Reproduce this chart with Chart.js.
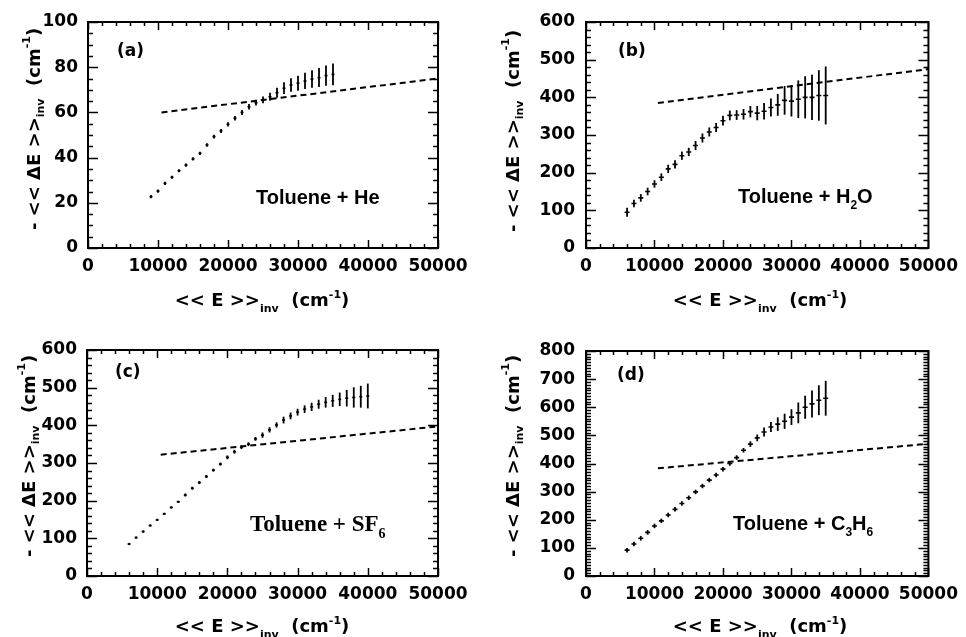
<!DOCTYPE html>
<html>
<head>
<meta charset="utf-8">
<script src="https://cdn.jsdelivr.net/npm/chart.js@4.4.1/dist/chart.umd.min.js"></script>
<style>
  html, body { margin: 0; padding: 0; background: #fff; }
  #wrap { position: relative; width: 966px; height: 637px; overflow: hidden; background: #fff; }
  canvas { position: absolute; display: block; }
</style>
</head>
<body>
<div id="wrap">
  <canvas id="pa" width="483" height="318" style="left:0;top:0"></canvas>
  <canvas id="pb" width="483" height="318" style="left:483px;top:0"></canvas>
  <canvas id="pc" width="483" height="319" style="left:0;top:318px"></canvas>
  <canvas id="pd" width="483" height="319" style="left:483px;top:318px"></canvas>
</div>
<script>
// ---- shared axis ticks ----
const energyTicks = [0, 10000, 20000, 30000, 40000, 50000];
const yTicksA = [0, 20, 40, 60, 80, 100];
const yTicksB = [0, 100, 200, 300, 400, 500, 600];
const yTicksC = [0, 100, 200, 300, 400, 500, 600];
const yTicksD = [0, 100, 200, 300, 400, 500, 600, 700, 800];

// ---- (a) Toluene + He ----
const energyA = [9000, 10000, 11000, 12000, 13000, 14000, 15000, 16000, 17000, 18000, 19000, 20000, 21000, 22000,
  23000, 24000, 25000, 26000, 27000, 28000, 29000, 30000, 31000, 32000, 33000, 34000, 35000];
const deltaA = [22.7, 25.2, 28.6, 31.3, 34.2, 36.7, 39.4, 41.9, 45.6, 49.3, 51.8, 54.7, 57.4, 60.0,
  62.5, 64.3, 65.5, 66.9, 68.7, 70.7, 72.1, 72.9, 73.9, 74.8, 75.4, 76.3, 76.8];
const errA = [0.7, 0.7, 0.7, 0.7, 0.7, 0.7, 0.7, 0.7, 0.8, 0.8, 0.9, 0.9, 1.0, 1.1,
  1.2, 1.3, 1.5, 1.8, 2.2, 2.6, 3.0, 3.3, 3.6, 3.9, 4.2, 4.5, 4.8];
const fitXA = [10500, 50000];
const fitYA = [60, 75];

// ---- (b) Toluene + H2O ----
const energyB = [6000, 7000, 8000, 9000, 10000, 11000, 12000, 13000, 14000, 15000, 16000, 17000, 18000, 19000, 20000,
  21000, 22000, 23000, 24000, 25000, 26000, 27000, 28000, 29000, 30000, 31000, 32000, 33000, 34000, 35000];
const deltaB = [95, 118, 133, 150, 170, 188, 210, 222, 245, 255, 272, 292, 308, 320, 338,
  352, 353, 355, 362, 358, 363, 373, 380, 392, 390, 395, 400, 400, 405, 405];
const errB = [12, 10, 10, 10, 10, 10, 11, 11, 11, 11, 12, 12, 12, 12, 13,
  13, 13, 14, 15, 19, 22, 24, 29, 38, 41, 50, 56, 60, 67, 77];
const fitXB = [10500, 50000];
const fitYB = [385, 475];

// ---- (c) Toluene + SF6 ----
const energyC = [6000, 7000, 8000, 9000, 10000, 11000, 12000, 13000, 14000, 15000, 16000, 17000, 18000, 19000, 20000,
  21000, 22000, 23000, 24000, 25000, 26000, 27000, 28000, 29000, 30000, 31000, 32000, 33000, 34000, 35000,
  36000, 37000, 38000, 39000, 40000];
const deltaC = [85, 102, 118, 134, 149, 165, 182, 197, 215, 233, 248, 264, 281, 297, 315,
  330, 342, 350, 364, 374, 388, 401, 414, 425, 435, 443, 449, 456, 461, 465,
  469, 472, 474, 476, 478];
const errC = [3, 3, 3, 3, 3, 3, 3, 3, 4, 4, 4, 4, 4, 4, 5,
  5, 5, 5, 5, 7, 7, 7, 9, 9, 9, 10, 11, 12, 14, 16,
  18, 22, 27, 29, 33];
const fitXC = [10500, 50000];
const fitYC = [322, 397];

// ---- (d) Toluene + C3H6 ----
const energyD = [6000, 7000, 8000, 9000, 10000, 11000, 12000, 13000, 14000, 15000, 16000, 17000, 18000, 19000, 20000,
  21000, 22000, 23000, 24000, 25000, 26000, 27000, 28000, 29000, 30000, 31000, 32000, 33000, 34000, 35000];
const deltaD = [92, 114, 134, 155, 178, 196, 217, 237, 258, 278, 299, 320, 341, 359, 380,
  400, 421, 447, 469, 491, 512, 530, 540, 550, 565, 580, 600, 612, 625, 632];
const errD = [8, 8, 8, 8, 8, 8, 8, 8, 8, 8, 8, 8, 8, 8, 8,
  8, 8, 8, 10, 12, 16, 18, 24, 27, 28, 37, 41, 48, 53, 62];
const fitXD = [10500, 50000];
const fitYD = [383, 470];

// ---- drawing helpers ----
const AXIS_FAMILY = '"DejaVu Sans", sans-serif';

// Draw a run of text pieces; mode 0 = normal, 1 = subscript, 2 = superscript.
function drawRuns(ctx, runs, x, y, size, family, align) {
  const small = Math.round(size * 0.62);
  const fontFor = m => 'bold ' + (m ? small : size) + 'px ' + family;
  let total = 0;
  runs.forEach(([t, m]) => { ctx.font = fontFor(m); total += ctx.measureText(t).width; });
  let cx = align === 'center' ? x - total / 2 : x;
  runs.forEach(([t, m]) => {
    ctx.font = fontFor(m);
    const dy = m === 1 ? size * 0.32 : (m === 2 ? -size * 0.42 : 0);
    ctx.fillText(t, cx, y + dy);
    cx += ctx.measureText(t).width;
  });
}

// Vertical uncertainty bars for the measured points.
const errorBars = {
  id: 'errorBars',
  afterDatasetsDraw(chart) {
    const ds = chart.data.datasets[0];
    const meta = chart.getDatasetMeta(0);
    const ys = chart.scales.y;
    const ctx = chart.ctx;
    ctx.save();
    ctx.strokeStyle = '#000';
    ctx.lineWidth = 1.8;
    meta.data.forEach((pt, i) => {
      const p = ds.data[i];
      const e = ds.errors[i];
      ctx.beginPath();
      ctx.moveTo(pt.x, ys.getPixelForValue(p.y + e));
      ctx.lineTo(pt.x, ys.getPixelForValue(p.y - e));
      ctx.stroke();
    });
    ctx.restore();
  }
};

// Box frame with inward major / minor tick marks on all four sides.
const frame = {
  id: 'frame',
  afterDraw(chart, args, o) {
    const { ctx, chartArea: a, scales: { x, y } } = chart;
    ctx.save();
    ctx.strokeStyle = '#000';
    const seg = (x1, y1, x2, y2) => { ctx.beginPath(); ctx.moveTo(x1, y1); ctx.lineTo(x2, y2); ctx.stroke(); };
    ctx.lineWidth = 1.5;
    for (let v = x.min; v <= x.max + 1e-6; v += o.xMinor) {
      const px = Math.round(x.getPixelForValue(v)) + 0.5;
      const L = (v % o.xMajor === 0) ? 8 : 4;
      seg(px, a.bottom, px, a.bottom - L);
      seg(px, a.top, px, a.top + L);
    }
    for (let v = y.min; v <= y.max + 1e-6; v += o.yMinor) {
      const py = Math.round(y.getPixelForValue(v)) + 0.5;
      const L = (v % o.yMajor === 0) ? 10 : 5;
      seg(a.left, py, a.left + L, py);
      seg(a.right, py, a.right - L, py);
    }
    ctx.lineWidth = 2;
    ctx.strokeRect(a.left, a.top, a.right - a.left, a.bottom - a.top);
    ctx.restore();
  }
};

// Panel tag, system label and axis titles.
const decor = {
  id: 'decor',
  afterDraw(chart, args, o) {
    const ctx = chart.ctx;
    ctx.save();
    ctx.fillStyle = '#000';
    ctx.textBaseline = 'alphabetic';
    ctx.textAlign = 'left';
    ctx.font = 'bold 17px ' + AXIS_FAMILY;
    ctx.fillText(o.tag, o.tagX, o.tagY);
    drawRuns(ctx, o.species, o.spX, o.spY, o.spSize, o.spFamily, 'left');
    drawRuns(ctx, [['<< E >>', 0], ['inv', 1], ['  (cm', 0], ['-1', 2], [')', 0]],
      o.xtX, o.xtY, 18, AXIS_FAMILY, 'center');
    ctx.translate(o.ytX, o.ytY);
    ctx.rotate(-Math.PI / 2);
    ctx.textBaseline = 'middle';
    drawRuns(ctx, [['- << \u0394E >>', 0], ['inv', 1], ['  (cm', 0], ['-1', 2], [')', 0]],
      0, 0, 18, AXIS_FAMILY, 'center');
    ctx.restore();
  }
};

function makePanel(id, p) {
  const pts = p.energy.map((e, i) => ({ x: e, y: p.delta[i] }));
  const fit = p.fitX.map((e, i) => ({ x: e, y: p.fitY[i] }));
  const tickFont = { family: AXIS_FAMILY, size: 17, weight: 'bold' };
  return new Chart(document.getElementById(id), {
    type: 'scatter',
    data: {
      datasets: [
        {
          label: 'measured',
          data: pts,
          errors: p.err,
          pointStyle: 'line',
          pointRadius: p.markSize,
          pointBorderWidth: 1.6,
          pointBorderColor: '#000',
          pointBackgroundColor: '#000',
          showLine: false
        },
        {
          type: 'line',
          label: 'fit',
          data: fit,
          borderColor: '#000',
          borderWidth: 2,
          borderDash: [6, 4],
          pointRadius: 0,
          fill: false,
          tension: 0
        }
      ]
    },
    options: {
      responsive: false,
      animation: false,
      events: [],
      layout: { padding: { left: 0, right: p.padRight, top: p.padTop, bottom: 0 } },
      plugins: {
        legend: { display: false },
        tooltip: { enabled: false },
        frame: { xMajor: 10000, xMinor: 2000, yMajor: p.yMajor, yMinor: p.yMinor },
        decor: p.decor
      },
      scales: {
        x: {
          type: 'linear',
          min: 0, max: 50000,
          afterBuildTicks: s => { s.ticks = energyTicks.map(v => ({ value: v })); },
          afterFit: s => { s.height = p.xHeight; },
          grid: { display: false, drawTicks: false },
          border: { display: false },
          ticks: { color: '#000', font: tickFont, padding: 8, maxRotation: 0, callback: v => String(v) }
        },
        y: {
          type: 'linear',
          min: p.yTicks[0], max: p.yTicks[p.yTicks.length - 1],
          afterBuildTicks: s => { s.ticks = p.yTicks.map(v => ({ value: v })); },
          afterFit: s => { s.width = p.yWidth; },
          grid: { display: false, drawTicks: false },
          border: { display: false },
          ticks: { color: '#000', font: tickFont, padding: p.yPad, callback: v => String(v) }
        }
      }
    },
    plugins: [errorBars, frame, decor]
  });
}

makePanel('pa', {
  energy: energyA, delta: deltaA, err: errA, fitX: fitXA, fitY: fitYA, yTicks: yTicksA, markSize: 1.5,
  yMajor: 20, yMinor: 5, padRight: 45, padTop: 22, yWidth: 88, xHeight: 70, yPad: 10,
  decor: { tag: '(a)', tagX: 117, tagY: 56,
    species: [['Toluene + He', 0]], spX: 256, spY: 204, spSize: 20, spFamily: '"Liberation Sans", Arial, sans-serif',
    xtX: 262, xtY: 306, ytX: 35, ytY: 129 }
});
makePanel('pb', {
  energy: energyB, delta: deltaB, err: errB, fitX: fitXB, fitY: fitYB, yTicks: yTicksB, markSize: 2.5,
  yMajor: 100, yMinor: 20, padRight: 30, padTop: 22, yWidth: 103, xHeight: 70, yPad: 11,
  decor: { tag: '(b)', tagX: 135, tagY: 56,
    species: [['Toluene + H', 0], ['2', 1], ['O', 0]], spX: 255, spY: 203, spSize: 20, spFamily: '"Liberation Sans", Arial, sans-serif',
    xtX: 277, xtY: 306, ytX: 31, ytY: 131 }
});
makePanel('pc', {
  energy: energyC, delta: deltaC, err: errC, fitX: fitXC, fitY: fitYC, yTicks: yTicksC, markSize: 1.5,
  yMajor: 100, yMinor: 20, padRight: 45, padTop: 32, yWidth: 87, xHeight: 61, yPad: 10,
  decor: { tag: '(c)', tagX: 115, tagY: 59,
    species: [['Toluene + SF', 0], ['6', 1]], spX: 250, spY: 213, spSize: 23, spFamily: '"Liberation Serif", "Times New Roman", serif',
    xtX: 262, xtY: 314, ytX: 30, ytY: 138 }
});
makePanel('pd', {
  energy: energyD, delta: deltaD, err: errD, fitX: fitXD, fitY: fitYD, yTicks: yTicksD, markSize: 2.5,
  yMajor: 100, yMinor: 10, padRight: 29, padTop: 33, yWidth: 103, xHeight: 61, yPad: 11,
  decor: { tag: '(d)', tagX: 134, tagY: 62,
    species: [['Toluene + C', 0], ['3', 1], ['H', 0], ['6', 1]], spX: 250, spY: 212, spSize: 20, spFamily: '"Liberation Sans", Arial, sans-serif',
    xtX: 277, xtY: 314, ytX: 31, ytY: 138 }
});
</script>
</body>
</html>
